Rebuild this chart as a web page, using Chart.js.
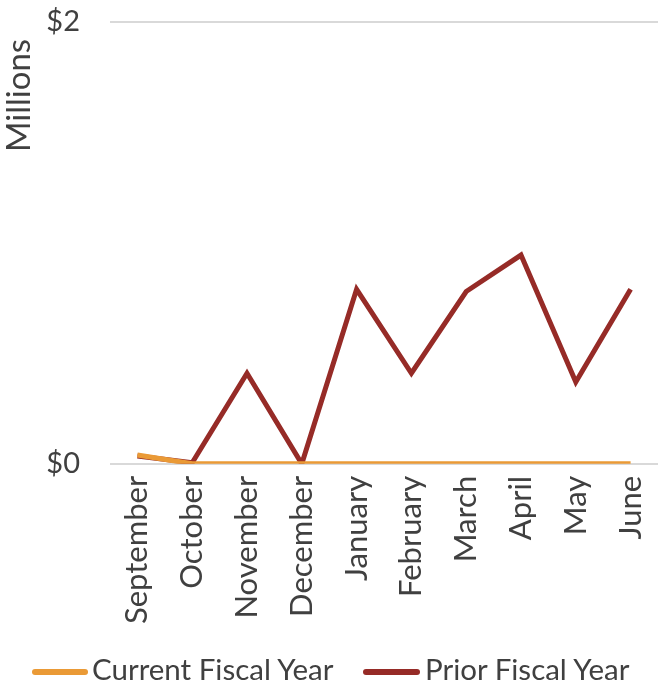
<!DOCTYPE html>
<html>
<head>
<meta charset="utf-8">
<script src="https://cdn.jsdelivr.net/npm/chart.js@4/dist/chart.umd.min.js"></script>
<style>
  html, body { margin: 0; padding: 0; background: #fff; }
  #wrap { width: 658px; height: 686px; position: relative; overflow: hidden; }
  .key { position: absolute; height: 6px; border-radius: 3px; top: 669px; }
  .lbl { position: absolute; top: 654px; font: 29.5px/30px Lato, sans-serif; color: #404040; white-space: nowrap; }
</style>
</head>
<body>
<div id="wrap">
  <canvas id="chart" width="658" height="686"></canvas>
  <div id="legend"></div>
</div>
<script>
const months = ["September", "October", "November", "December", "January", "February", "March", "April", "May", "June"];
const currentYear = [40000, 0, 0, 0, 0, 0, 0, 0, 0, 0];
const priorYear = [35000, 5000, 410000, 0, 790000, 410000, 780000, 945000, 370000, 790000];
const yTicks = [0, 2000000];
const seriesNames = ["Current Fiscal Year", "Prior Fiscal Year"];
const seriesColors = ["#EA9A36", "#962B27"];

const textColor = "#404040";
const fontFamily = "Lato, 'Open Sans', sans-serif";

const ctx = document.getElementById("chart").getContext("2d");
const chart = new Chart(ctx, {
    type: "line",
    data: {
        labels: months,
        datasets: [
            {
                label: seriesNames[0],
                data: currentYear,
                borderColor: seriesColors[0],
                backgroundColor: seriesColors[0],
                borderWidth: 5,
                pointRadius: 0,
                tension: 0,
            },
            {
                label: seriesNames[1],
                data: priorYear,
                borderColor: seriesColors[1],
                backgroundColor: seriesColors[1],
                borderWidth: 5,
                pointRadius: 0,
                tension: 0,
            },
        ],
    },
    options: {
        responsive: false,
        animation: false,
        layout: { padding: { left: 0, right: 0, top: 0, bottom: 50 } },
        plugins: {
            tooltip: { enabled: false },
            legend: { display: false },
        },
        scales: {
            x: {
                offset: true,
                grid: { display: false, drawTicks: false },
                border: { display: false },
                ticks: {
                    color: textColor,
                    font: { family: fontFamily, size: 31 },
                    maxRotation: 90,
                    minRotation: 90,
                    padding: 12,
                    autoSkip: false,
                },
                afterFit: (axis) => { axis.paddingLeft = 0; axis.paddingRight = 0; },
            },
            y: {
                min: 0,
                max: 2000000,
                afterBuildTicks: (axis) => { axis.ticks = yTicks.map(v => ({ value: v })); },
                afterFit: (axis) => { axis.width = 110; axis.paddingTop = 22; axis.paddingBottom = 0; },
                grid: { color: "#D9D9D9", lineWidth: 2, drawTicks: false },
                border: { display: false },
                ticks: {
                    color: textColor,
                    font: { family: fontFamily, size: 29 },
                    padding: 30,
                    callback: (v) => "$" + (v / 1000000),
                },
                title: {
                    display: true,
                    text: "Millions  ",
                    align: "end",
                    color: textColor,
                    font: { family: fontFamily, size: 33 },
                    padding: 0,
                },
            },
        },
    },
});

// legend laid out like the original: short thick line, then the name
const keyLefts = [32, 363];
const keyWidths = [56, 57];
const labelLefts = [92, 425];
const legend = document.getElementById("legend");
seriesNames.forEach((name, i) => {
    const key = document.createElement("div");
    key.className = "key";
    key.style.left = keyLefts[i] + "px";
    key.style.width = keyWidths[i] + "px";
    key.style.background = seriesColors[i];
    const lbl = document.createElement("div");
    lbl.className = "lbl";
    lbl.style.left = labelLefts[i] + "px";
    lbl.textContent = name;
    legend.appendChild(key);
    legend.appendChild(lbl);
});
</script>
</body>
</html>
